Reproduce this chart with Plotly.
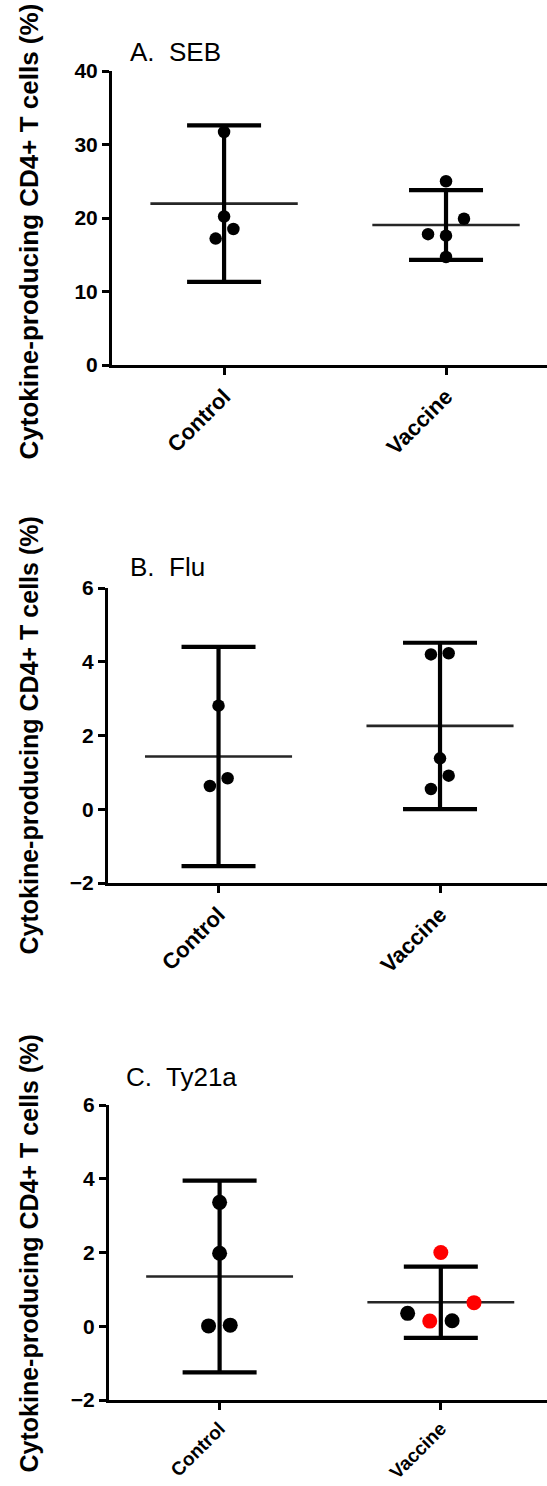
import plotly.graph_objects as go

# ---------------- data ----------------
categories = ["Control", "Vaccine"]

# Panel A: SEB
seb_control = [31.7, 20.2, 17.2, 18.5]
seb_vaccine = [25.0, 19.9, 17.8, 17.6, 14.7]
seb_mean = [21.95, 19.05]
seb_err = [10.65, 4.75]

# Panel B: Flu
flu_control = [2.81, 0.63, 0.84]
flu_vaccine = [4.20, 4.23, 1.38, 0.91, 0.55]
flu_mean = [1.43, 2.26]
flu_err = [2.975, 2.255]

# Panel C: Ty21a
ty_control = [3.36, 1.98, 0.01, 0.03]
ty_vaccine_black = [0.35, 0.15]
ty_vaccine_red = [2.00, 0.14, 0.64]
ty_mean = [1.35, 0.65]
ty_err = [2.6, 0.965]

# horizontal jitter of points (layout only, in category units)
jit_seb_c = [0, 0, -0.038, 0.042]
jit_seb_v = [0, 0.081, -0.081, 0, 0]
jit_flu_c = [0, -0.039, 0.041]
jit_flu_v = [-0.041, 0.039, 0, 0.039, -0.041]
jit_ty_c = [0, 0, -0.05, 0.048]
jit_ty_vb = [-0.15, 0.051]
jit_ty_vr = [0, -0.05, 0.15]

FONT = "Liberation Sans, Arial, sans-serif"
H = 1486
W = 547

panels = [
    dict(name="A.\u00a0 SEB", ctrl=seb_control, vac=seb_vaccine, mean=seb_mean, err=seb_err,
         jc=jit_seb_c, jv=jit_seb_v, msize=12.5, top=71, bot=365, left=112, yrange=[0, 40],
         dtick=10, xrange=[-0.505, 1.455], title_x=128, title_y=52, ytitle_y=232, ytsize=26,
         xtsize=22),
    dict(name="B.\u00a0 Flu", ctrl=flu_control, vac=flu_vaccine, mean=flu_mean, err=flu_err,
         jc=jit_flu_c, jv=jit_flu_v, msize=12.5, top=588, bot=883, left=108, yrange=[-2, 6],
         dtick=2, xrange=[-0.499, 1.483], title_x=128, title_y=567, ytitle_y=736, ytsize=25,
         xtsize=22),
    dict(name="C.\u00a0 Ty21a", ctrl=ty_control, vac=ty_vaccine_black, mean=ty_mean, err=ty_err,
         jc=jit_ty_c, jv=jit_ty_vb, msize=15, top=1105, bot=1400, left=109, yrange=[-2, 6],
         dtick=2, xrange=[-0.50, 1.48], title_x=124, title_y=1077, ytitle_y=1254, ytsize=25,
         xtsize=19),
]

fig = go.Figure()
annotations = []
MEAN_HW = 0.332

for i, p in enumerate(panels):
    sfx = "" if i == 0 else str(i + 1)
    xa, ya = "x" + sfx, "y" + sfx
    # mean lines
    for k in range(2):
        fig.add_trace(go.Scatter(
            x=[k - MEAN_HW, k + MEAN_HW], y=[p["mean"][k], p["mean"][k]],
            mode="lines", line=dict(color="#262626", width=2.6),
            xaxis=xa, yaxis=ya, showlegend=False, hoverinfo="skip"))
    # error bars (SD)
    fig.add_trace(go.Scatter(
        x=[0, 1], y=p["mean"], mode="markers",
        marker=dict(size=1, color="rgba(0,0,0,0)"),
        error_y=dict(type="data", array=p["err"], visible=True, color="black",
                     thickness=4.2, width=37),
        xaxis=xa, yaxis=ya, showlegend=False, hoverinfo="skip"))
    # points
    fig.add_trace(go.Scatter(
        x=[0 + j for j in p["jc"]], y=p["ctrl"], mode="markers",
        marker=dict(size=p["msize"], color="black"),
        xaxis=xa, yaxis=ya, showlegend=False))
    fig.add_trace(go.Scatter(
        x=[1 + j for j in p["jv"]], y=p["vac"], mode="markers",
        marker=dict(size=p["msize"], color="black"),
        xaxis=xa, yaxis=ya, showlegend=False))
    if i == 2:
        fig.add_trace(go.Scatter(
            x=[1 + j for j in jit_ty_vr], y=ty_vaccine_red, mode="markers",
            marker=dict(size=p["msize"], color="#ff0000"),
            xaxis=xa, yaxis=ya, showlegend=False))

    ydom = [1 - p["bot"] / H, 1 - p["top"] / H]
    xdom = [p["left"] / W, 1]
    fig.layout["xaxis" + sfx] = dict(
        domain=xdom, anchor=ya, range=p["xrange"], tickmode="array",
        tickvals=[0, 1], ticktext=categories, tickangle=-45, automargin=False,
        showline=True, linecolor="black", linewidth=3, ticks="outside",
        ticklen=7, tickwidth=2.5, tickcolor="black", showgrid=False, zeroline=False,
        tickfont=dict(family=FONT, size=p["xtsize"], color="black", weight="bold"))
    fig.layout["yaxis" + sfx] = dict(
        domain=ydom, anchor=xa, range=p["yrange"], dtick=p["dtick"], tick0=0,
        automargin=False,
        showline=True, linecolor="black", linewidth=3, ticks="outside",
        ticklen=7, tickwidth=2.5, tickcolor="black", showgrid=False, zeroline=False,
        tickfont=dict(family=FONT, size=21, color="black", weight="bold"))

    annotations.append(dict(
        text=p["name"], xref="paper", yref="paper", x=p["title_x"] / W,
        y=1 - p["title_y"] / H, xanchor="left", yanchor="middle", showarrow=False,
        font=dict(family=FONT, size=26, color="black")))
    annotations.append(dict(
        text="Cytokine-producing CD4+ T cells (%)", xref="paper", yref="paper",
        x=28.5 / W, y=1 - p["ytitle_y"] / H, xanchor="center", yanchor="middle",
        textangle=-90, showarrow=False,
        font=dict(family=FONT, size=p["ytsize"], color="black", weight="bold")))

fig.update_layout(
    width=W, height=H, margin=dict(l=0, r=0, t=0, b=0, autoexpand=False),
    paper_bgcolor="white", plot_bgcolor="white", annotations=annotations)

fig.write_html("out.html")
